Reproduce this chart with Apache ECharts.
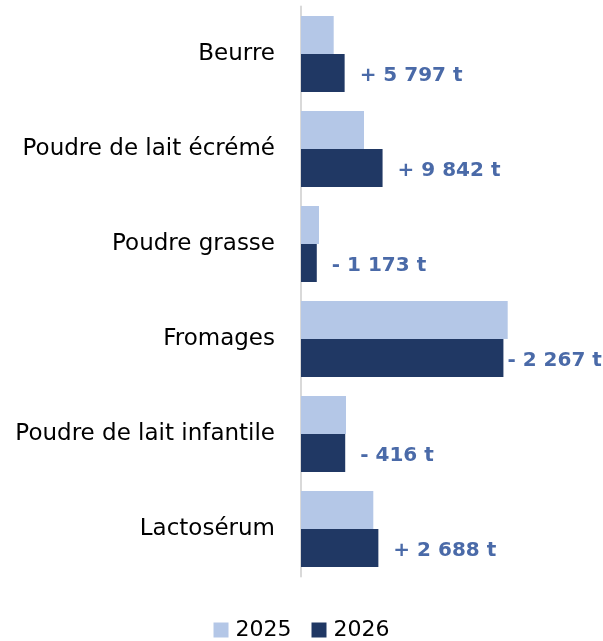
<!DOCTYPE html>
<html>
<head>
<meta charset="utf-8">
<script src="https://cdn.jsdelivr.net/npm/echarts@6/dist/echarts.min.js"></script>
<style>html,body{margin:0;padding:0;background:#fff}#c{width:603px;height:641px}</style>
</head>
<body>
<div id="c"></div>
<script>
const categories = ['Beurre', 'Poudre de lait écrémé', 'Poudre grasse', 'Fromages', 'Poudre de lait infantile', 'Lactosérum'];
const values2025 = [17330, 33390, 9540, 109550, 23850, 38320];
const values2026 = [23127, 43232, 8367, 107283, 23434, 41008];
const diffLabels = ['+ 5 797 t', '+ 9 842 t', '- 1 173 t', '- 2 267 t', '- 416 t', '+ 2 688 t'];
const seriesNames = ['2025', '2026'];

const chart = echarts.init(document.getElementById('c'));
const font = 'DejaVu Sans';
chart.setOption({
  animation: false,
  textStyle: { fontFamily: font },
  grid: { left: 301, width: 300, top: 6.5, height: 570, containLabel: false },
  legend: {
    bottom: -5, left: 'center', itemWidth: 15, itemHeight: 15, itemGap: 20,
    icon: 'rect',
    textStyle: { fontSize: 22, color: '#000', fontFamily: font, padding: [0, 0, 0, 2] },
    data: seriesNames
  },
  xAxis: { type: 'value', min: 0, max: 159000, show: false },
  yAxis: {
    type: 'category', data: categories, inverse: true,
    axisLine: { show: true, lineStyle: { color: '#d9d9d9', width: 2 } },
    axisTick: { show: false },
    axisLabel: { fontSize: 23, color: '#000', margin: 26, fontFamily: font }
  },
  series: [
    {
      name: seriesNames[0], type: 'bar', data: values2025,
      barWidth: 38, barGap: '0%', barCategoryGap: '20%',
      itemStyle: { color: '#b4c7e7' }
    },
    {
      name: seriesNames[1], type: 'bar', data: values2026.map((v, i) => ({
        value: v,
        label: i === 3 ? { distance: 4 } : {}
      })),
      barWidth: 38, barGap: '0%',
      itemStyle: { color: '#203864' },
      label: {
        show: true, position: 'right', distance: 15, offset: [0, 3],
        formatter: p => diffLabels[p.dataIndex],
        fontSize: 20, fontWeight: 'bold', color: '#4a6aa8', fontFamily: font
      }
    }
  ]
});
</script>
</body>
</html>
